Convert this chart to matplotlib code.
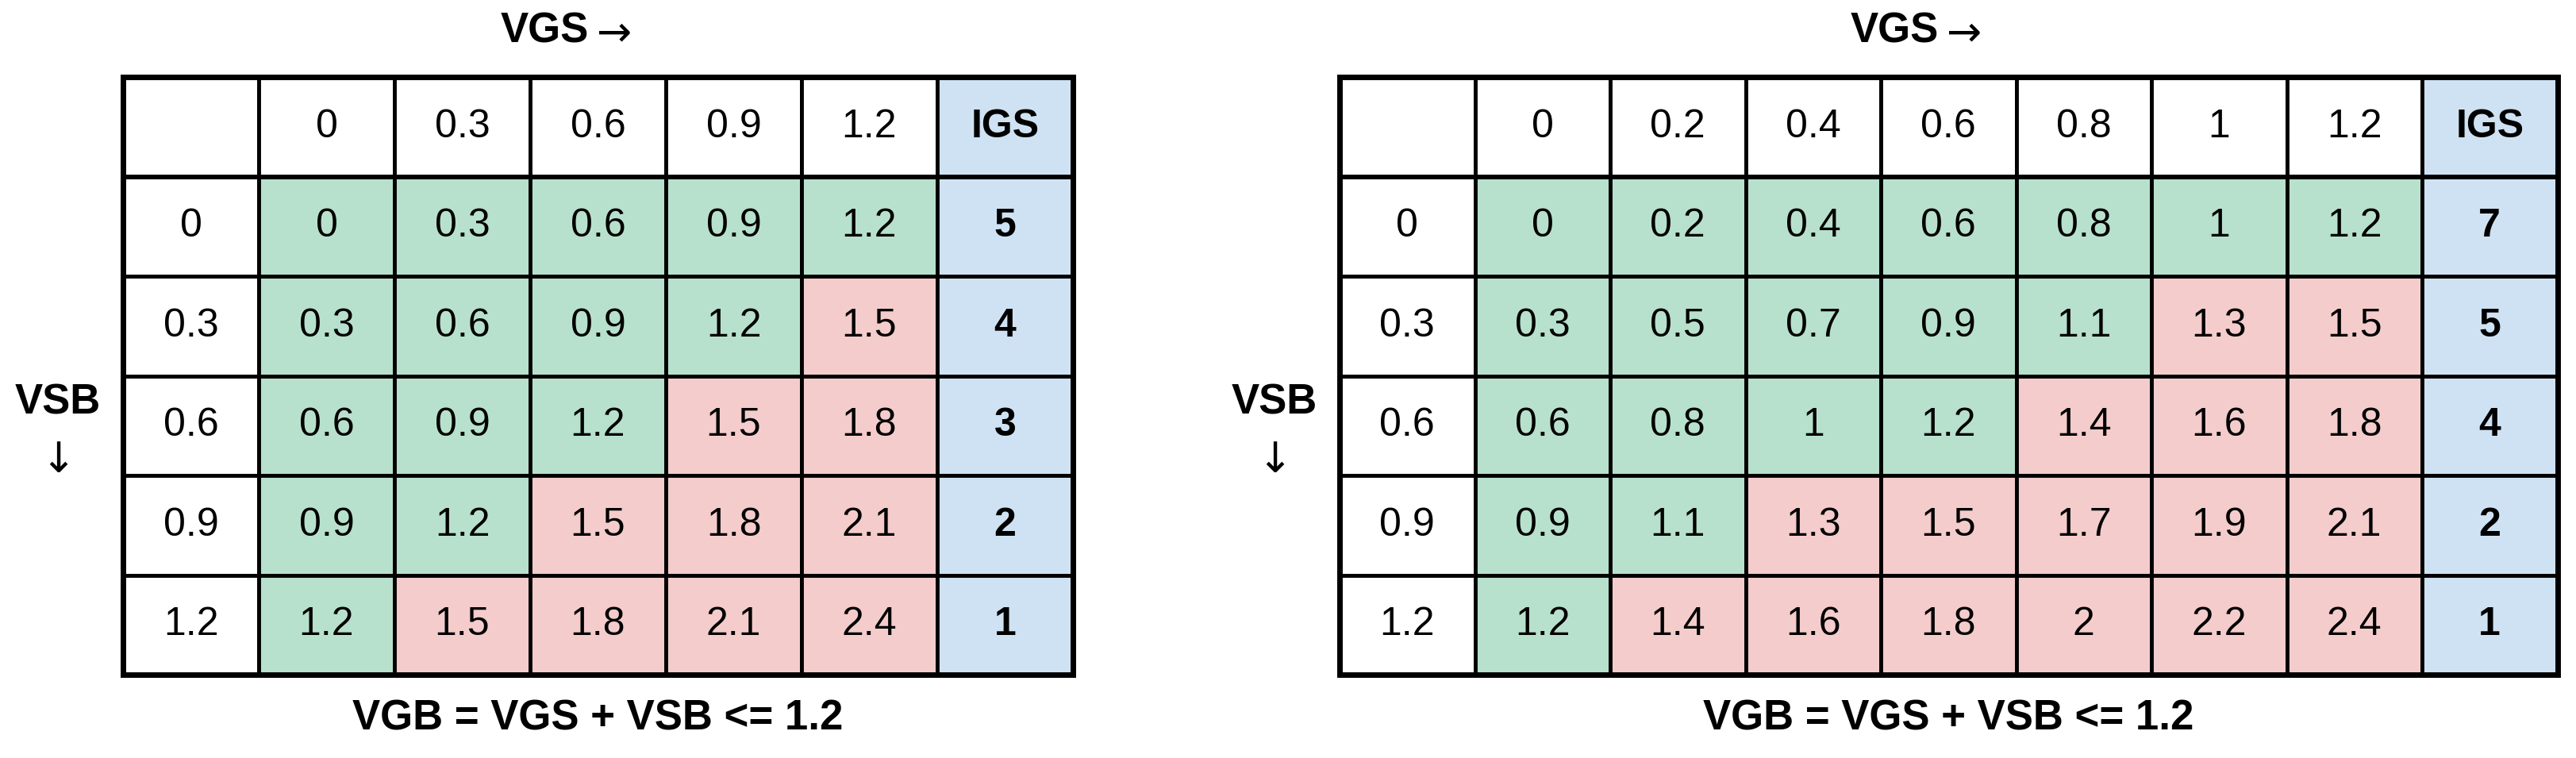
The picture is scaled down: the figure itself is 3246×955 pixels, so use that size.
import matplotlib
matplotlib.use("Agg")
import matplotlib.pyplot as plt
from matplotlib.patches import Rectangle

plt.rcParams['font.family'] = ['Liberation Sans', 'DejaVu Sans']

# ---- data ----
vsb = [0, 0.3, 0.6, 0.9, 1.2]
vgs_left = [0, 0.3, 0.6, 0.9, 1.2]
vgs_right = [0, 0.2, 0.4, 0.6, 0.8, 1, 1.2]
LIMIT = 1.2

GREEN = "#b7e1cd"
RED = "#f4cccc"
BLUE = "#cfe2f3"

W, H = 3246, 955
fig = plt.figure(figsize=(W / 100, H / 100), dpi=100)
ax = fig.add_axes([0, 0, 1, 1])
ax.set_xlim(0, W)
ax.set_ylim(H, 0)
ax.axis("off")


def fmt(v):
    v = round(v, 2)
    return str(int(v)) if v == int(v) else f"{v:g}"


def draw_table(x0, vgs, cw=171, rh=125.5, y0=97):
    ncols = len(vgs) + 2
    nrows = len(vsb) + 1
    fs = 36

    def cell(c, r, text, color="white", bold=False):
        ax.add_patch(Rectangle((x0 + c * cw, y0 + r * rh), cw, rh,
                               facecolor=color, edgecolor="black", lw=3.5))
        ax.text(x0 + (c + 0.5) * cw, y0 + (r + 0.5) * rh, text, ha="center",
                va="center", fontsize=fs, fontweight="bold" if bold else "normal")

    cell(0, 0, "")
    for j, g in enumerate(vgs):
        cell(j + 1, 0, fmt(g))
    cell(ncols - 1, 0, "IGS", BLUE, bold=True)
    for i, s in enumerate(vsb):
        cell(0, i + 1, fmt(s))
        count = 0
        for j, g in enumerate(vgs):
            ok = round(g + s, 2) <= LIMIT
            count += ok
            cell(j + 1, i + 1, fmt(g + s), GREEN if ok else RED)
        cell(ncols - 1, i + 1, str(count), BLUE, bold=True)
    ax.add_patch(Rectangle((x0, y0), ncols * cw, nrows * rh, fill=False,
                           edgecolor="black", lw=5))

    xc = x0 + ncols * cw / 2
    ax.text(xc - 12, 40, "VGS", ha="right", va="center", fontsize=38, fontweight="bold")
    ax.text(xc - 2, 42, "\u2192", ha="left", va="center", fontsize=38,
            family="DejaVu Sans")
    ax.text(xc, 905, "VGB = VGS + VSB <= 1.2", ha="center", va="center",
            fontsize=38, fontweight="bold")
    ax.text(x0 - 82, 507, "VSB", ha="center", va="center", fontsize=38, fontweight="bold")
    ax.text(x0 - 82, 580, "\u2193", ha="center", va="center", fontsize=38,
            family="DejaVu Sans")


draw_table(155, vgs_left)
draw_table(1688, vgs_right, cw=170.5)

fig.savefig("out.png", dpi=100, facecolor="white")
